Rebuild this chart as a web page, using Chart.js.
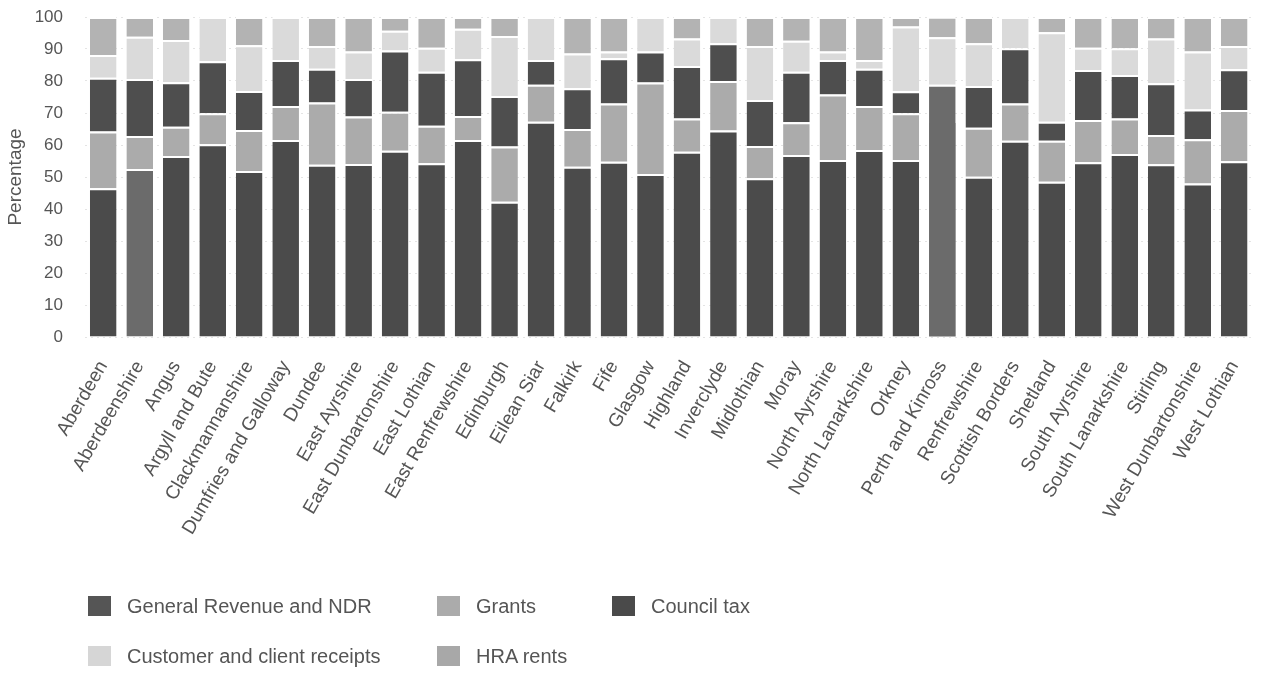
<!DOCTYPE html>
<html>
<head>
<meta charset="utf-8">
<script src="https://cdn.jsdelivr.net/npm/chart.js@4/dist/chart.umd.min.js"></script>
<style>
  body { margin: 0; background: #fff; }
  #wrap { position: relative; width: 1266px; height: 674px; }
  #legend { position: absolute; left: 88px; top: 596px; font: 20px "Liberation Sans", Arial, sans-serif; color: #555; }
  #legend .row { display: flex; height: 50px; }
  #legend .item { display: flex; align-items: flex-start; }
  #legend .item:nth-child(1) { width: 349px; }
  #legend .item:nth-child(2) { width: 175px; }
  #legend .box { width: 23px; height: 20px; margin-right: 16px; }
  #legend .txt { line-height: 20px; }
</style>
</head>
<body>
<div id="wrap">
  <canvas id="myChart" width="1266" height="674"></canvas>
  <div id="legend"></div>
</div>
<script>
const councils = [
  "Aberdeen", "Aberdeenshire", "Angus", "Argyll and Bute", "Clackmannanshire",
  "Dumfries and Galloway", "Dundee", "East Ayrshire", "East Dunbartonshire",
  "East Lothian", "East Renfrewshire", "Edinburgh", "Eilean Siar", "Falkirk",
  "Fife", "Glasgow", "Highland", "Inverclyde", "Midlothian", "Moray",
  "North Ayrshire", "North Lanarkshire", "Orkney", "Perth and Kinross",
  "Renfrewshire", "Scottish Borders", "Shetland", "South Ayrshire",
  "South Lanarkshire", "Stirling", "West Dunbartonshire", "West Lothian",
];

const generalRevenue = [
  46.5, 52.5, 56.6, 60.2, 51.9, 61.6, 53.8, 54.1, 58.2, 54.3, 61.6, 42.3, 67.3,
  53.2, 54.8, 50.9, 57.9, 64.5, 49.6, 56.9, 55.3, 58.4, 55.3, 58.4, 50.1, 61.3,
  48.5, 54.6, 57.2, 54.0, 48.0, 54.9,
];
const grants = [
  17.7, 10.3, 9.1, 9.7, 12.8, 10.6, 19.5, 14.8, 12.2, 11.7, 7.5, 17.2, 11.5,
  11.8, 18.2, 28.6, 10.4, 15.5, 10.1, 10.2, 20.5, 13.8, 14.6, 8.5, 15.3, 11.7,
  12.8, 13.2, 11.1, 9.1, 13.8, 16.0,
];
const councilTax = [
  16.8, 17.8, 13.9, 16.3, 12.2, 14.4, 10.5, 11.7, 19.1, 16.9, 17.7, 15.8, 7.8,
  12.7, 14.1, 9.7, 16.4, 11.8, 14.4, 15.8, 10.8, 11.6, 6.9, 11.9, 13.0, 17.2,
  6.0, 15.6, 13.6, 16.2, 9.3, 12.8,
];
const customerReceipts = [
  7.1, 13.2, 13.2, 13.8, 14.3, 13.4, 7.1, 8.6, 6.2, 7.5, 9.5, 18.8, 13.4, 10.9,
  2.1, 10.8, 8.6, 8.2, 16.8, 9.7, 2.6, 2.8, 20.2, 14.9, 13.4, 9.8, 27.9, 7.0,
  8.3, 14.0, 18.1, 7.2,
];
const hraRents = [
  11.9, 6.2, 7.2, 0, 8.8, 0, 9.1, 10.8, 4.3, 9.6, 3.7, 5.9, 0, 11.4, 10.8, 0,
  6.7, 0, 9.1, 7.4, 10.8, 13.4, 3.0, 6.4, 8.2, 0, 4.8, 9.6, 9.8, 6.7, 10.8, 9.1,
];

const yTicks = [0, 10, 20, 30, 40, 50, 60, 70, 80, 90, 100];

// selected bars get a flat mid grey, as in the hover state
const hiColor = "#6b6b6b";
const hiBars = { 1: [0], 23: [0, 1, 2] };

const isHi = (ds, i) => (hiBars[i] || []).includes(ds);

const series = [
  { label: "General Revenue and NDR", data: generalRevenue, color: "#4b4b4b", key: "#555555" },
  { label: "Grants", data: grants, color: "#ababab", key: "#ababab" },
  { label: "Council tax", data: councilTax, color: "#4e4e4e", key: "#4a4a4a" },
  { label: "Customer and client receipts", data: customerReceipts, color: "#dadada", key: "#d6d6d6" },
  { label: "HRA rents", data: hraRents, color: "#b3b3b3", key: "#a8a8a8" },
];

const datasets = series.map((s, d) => ({
  label: s.label,
  data: s.data,
  backgroundColor: (ctx) => (isHi(d, ctx.dataIndex) ? hiColor : s.color),
  borderColor: "#ffffff",
  borderWidth: (ctx) =>
    isHi(d, ctx.dataIndex) && isHi(d + 1, ctx.dataIndex)
      ? 0
      : { top: 2, right: 0, bottom: 0, left: 0 },
  borderSkipped: false,
  categoryPercentage: 1,
  barPercentage: 0.73,
}));

const ctx = document.getElementById("myChart");
const myChart = new Chart(ctx, {
  type: "bar",
  data: { labels: councils, datasets: datasets },
  options: {
    responsive: false,
    devicePixelRatio: 1,
    animation: false,
    layout: { padding: { top: 17, right: 3, bottom: 0, left: 0 } },
    plugins: { legend: { display: false }, tooltip: { enabled: false } },
    scales: {
      x: {
        stacked: true,
        grid: { display: false },
        border: { display: false },
        ticks: {
          autoSkip: false,
          minRotation: 60,
          maxRotation: 60,
          padding: 12,
          color: "#555",
          font: { family: "Liberation Sans", size: 19 },
        },
        afterFit: (s) => { s.height = 337; },
      },
      y: {
        stacked: true,
        min: 0,
        max: 100,
        afterBuildTicks: (s) => { s.ticks = yTicks.map((v) => ({ value: v })); },
        // invisible tick marks keep the labels clear of the bars
        grid: { color: "#e4e4e4", drawTicks: true, tickLength: 19, tickColor: "rgba(0,0,0,0)" },
        border: { display: false, dash: [2, 4] },
        ticks: {
          padding: 3,
          color: "#555",
          font: { family: "Liberation Sans", size: 17 },
        },
        title: {
          display: true,
          text: "Percentage",
          color: "#555",
          font: { family: "Liberation Sans", size: 19 },
          padding: { top: 4, bottom: 0 },
        },
        afterFit: (s) => { s.width = 85; },
      },
    },
  },
});

// two-row legend laid out in fixed columns
const rows = [[0, 1, 2], [3, 4]];
const legend = document.getElementById("legend");
rows.forEach((r) => {
  const row = document.createElement("div");
  row.className = "row";
  r.forEach((i) => {
    const item = document.createElement("div");
    item.className = "item";
    item.innerHTML =
      '<span class="box" style="background:' + series[i].key + '"></span>' +
      '<span class="txt">' + series[i].label + "</span>";
    row.appendChild(item);
  });
  legend.appendChild(row);
});
</script>
</body>
</html>
